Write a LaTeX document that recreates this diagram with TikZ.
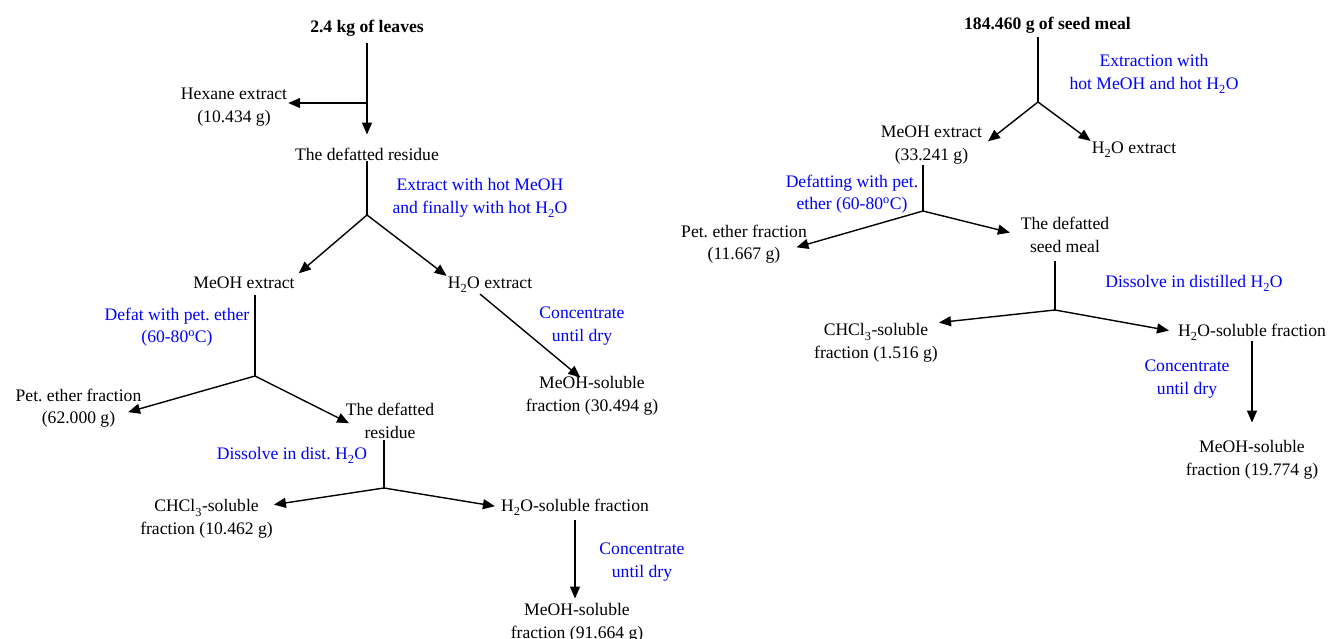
\documentclass[tikz,border=0pt]{standalone}
\usepackage{fontspec}
\setmainfont{Liberation Serif}
\usetikzlibrary{arrows.meta}
\newcommand{\lowsub}[1]{\raisebox{-1.5pt}{\textsubscript{#1}}}
\frenchspacing
\begin{document}
\begin{tikzpicture}[x=1pt,y=-1pt,
  every node/.style={font=\fontsize{17.6}{22.5}\selectfont, align=center, inner sep=1pt},
  ttl/.style={font=\fontsize{17.6}{22.5}\selectfont\bfseries},
  bluenote/.style={text=blue},
  ln/.style={line width=1.4pt},
  arr/.style={ln,-{Triangle[length=12pt,width=10pt]}}]
\useasboundingbox (0,0) rectangle (1330,639);
% ---------- left tree ----------
\node[ttl] (L0) at (367,28) {2.4 kg of leaves};
\node (Lhex) at (234,107) {Hexane extract\\(10.434 g)};
\node (Lres) at (367,154) {The defatted residue};
\coordinate (Lb1) at (367,103);
\coordinate (Lb2) at (367,215);
\node (Lmeoh) at (244,283) {MeOH extract};
\node (Lh2o) at (490,285) {H\lowsub{2}O extract};
\node[bluenote] (Lt1) at (480,198) {Extract with hot MeOH\\and finally with hot H\lowsub{2}O};
\coordinate (Lb3) at (255,376);
\node[bluenote] (Lt2) at (177,327) {Defat with pet. ether\\(60-80\textsuperscript{o}C)};
\node (Lpet) at (78.5,408) {Pet. ether fraction\\(62.000 g)};
\node (Lres2) at (390,421) {The defatted\\residue};
\node (Lms1) at (592,396) {MeOH-soluble\\fraction (30.494 g)};
\node[bluenote] (Lt3) at (582,326) {Concentrate\\until dry};
\coordinate (Lb4) at (384,488);
\node[bluenote] (Lt4) at (292,455) {Dissolve in dist. H\lowsub{2}O};
\node (Lchcl) at (206.5,519) {CHCl\lowsub{3}-soluble\\fraction (10.462 g)};
\node (Lh2os) at (575,507) {H\lowsub{2}O-soluble fraction};
\node[bluenote] (Lt5) at (642,562) {Concentrate\\until dry};
\node (Lms2) at (577,623) {MeOH-soluble\\fraction (91.664 g)};

\draw[arr, shorten <=6pt, shorten >=12pt] (L0) -- (Lres);
\draw[arr] (Lb1) -- (Lhex.east |- Lb1);
\draw[ln] (Lres) -- (Lb2);
\draw[arr, shorten >=4pt] (Lb2) -- (Lmeoh.north east);
\draw[arr] (Lb2) -- (Lh2o.north west);
\draw[arr, shorten >=-3pt] ([xshift=-10pt]Lh2o.south) -- ([xshift=-14pt]Lms1.north);
\draw[ln, shorten <=5pt] (Lmeoh.south -| Lb3) -- (Lb3);
\draw[arr, shorten >=-15pt] (Lb3) -- (Lpet.east);
\draw[arr, shorten >=-5pt] (Lb3) -- (Lres2.west);
\draw[ln] (Lres2.south -| Lb4) -- (Lb4);
\draw[arr] (Lb4) -- (Lchcl.12);
\draw[arr, shorten >=5pt] (Lb4) -- (Lh2os.west);
\draw[arr, shorten <=4pt, shorten >=4pt] (Lh2os.south) -- (Lh2os.south |- Lms2.north);

% ---------- right tree ----------
\node[ttl] (R0) at (1047.5,25) {184.460 g of seed meal};
\coordinate (Rb1) at (1038,102);
\node[bluenote] (Rt1) at (1154,74) {Extraction with\\hot MeOH and hot H\lowsub{2}O};
\node (Rmeoh) at (931.5,145) {MeOH extract\\(33.241 g)};
\node (Rh2o) at (1134,150) {H\lowsub{2}O extract};
\coordinate (Rb2) at (923,211);
\node[bluenote] (Rt2) at (852,194) {Defatting with pet.\\ether (60-80\textsuperscript{o}C)};
\node (Rpet) at (744,244) {Pet. ether fraction\\(11.667 g)};
\node (Rdef) at (1065,235) {The defatted\\seed meal};
\coordinate (Rb3) at (1055,310);
\node[bluenote] (Rt3) at (1194,283) {Dissolve in distilled H\lowsub{2}O};
\node (Rchcl) at (876,343) {CHCl\lowsub{3}-soluble\\fraction (1.516 g)};
\node (Rh2os) at (1252,332) {H\lowsub{2}O-soluble fraction};
\node[bluenote] (Rt4) at (1187,379) {Concentrate\\until dry};
\node (Rms) at (1252,460) {MeOH-soluble\\fraction (19.774 g)};

\draw[ln, shorten <=3pt] (R0.south -| Rb1) -- (Rb1);
\draw[arr, shorten >=6pt] (Rb1) -- (Rmeoh.east);
\draw[arr] (Rb1) -- (Rh2o.north west);
\draw[ln] (Rmeoh.south -| Rb2) -- (Rb2);
\draw[arr, shorten >=-12pt] (Rb2) -- (Rpet.east);
\draw[arr, shorten >=10pt] (Rb2) -- (Rdef.west);
\draw[ln, shorten <=7pt] (Rdef.south -| Rb3) -- (Rb3);
\draw[arr] (Rb3) -- (Rchcl.north east);
\draw[arr, shorten >=8pt] (Rb3) -- (Rh2os.west);
\draw[arr, shorten >=17pt] (Rh2os.south) -- (Rh2os.south |- Rms.north);
\end{tikzpicture}
\end{document}
